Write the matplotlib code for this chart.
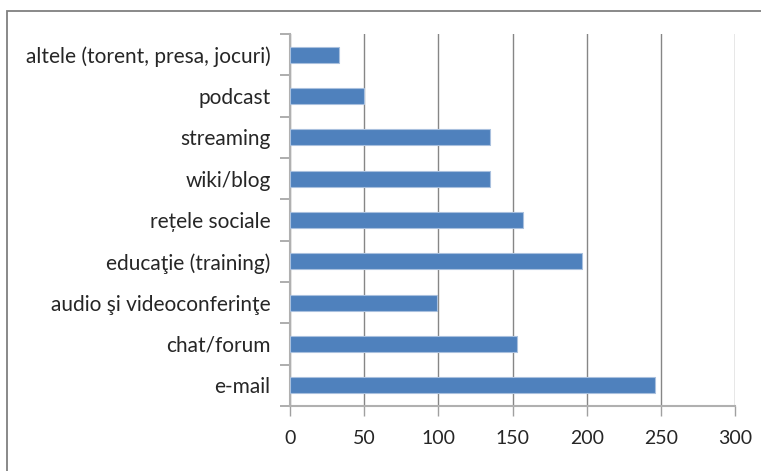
import matplotlib.pyplot as plt
import matplotlib.patches as mpatches

# categorii (de jos in sus) si valorile lor
categorii = ["e-mail", "chat/forum", "audio şi videoconferinţe",
             "educaţie (training)", "rețele sociale", "wiki/blog",
             "streaming", "podcast", "altele (torent, presa, jocuri)"]
valori = [246, 153, 99, 197, 157, 135, 135, 50, 33]
x_ticks = [0, 50, 100, 150, 200, 250, 300]

plt.rcParams['font.family'] = ['Lato', 'DejaVu Sans']

W, H = 761, 471
fig = plt.figure(figsize=(W / 100, H / 100), dpi=100)
ax = fig.add_axes([290 / W, 1 - 406 / H, 445 / W, 372 / H])

ax.barh(range(len(categorii)), valori, height=0.39, color="#4F81BD",
        edgecolor="#A9C0DE", linewidth=0.8, zorder=3)

ax.set_xlim(0, 300)
ax.set_ylim(-0.5, len(categorii) - 0.5)
ax.set_xticks(x_ticks)
ax.set_xticklabels([str(t) for t in x_ticks])
ax.set_yticks(range(len(categorii)))
ax.set_yticklabels(categorii)
ax.set_yticks([i - 0.5 for i in range(len(categorii) + 1)], minor=True)

ax.xaxis.grid(True, color="#868686", linewidth=1.0, zorder=0)
ax.tick_params(axis="y", which="major", length=0, pad=14,
               labelsize=15, labelcolor="#262626")
ax.tick_params(axis="y", which="minor", length=7, width=1.2, color="#A0A0A0")
ax.tick_params(axis="x", length=7, width=1.0, color="#A0A0A0", pad=10,
               labelsize=14, labelcolor="#262626")

for side in ["top", "right"]:
    ax.spines[side].set_visible(False)
for side in ["left", "bottom"]:
    ax.spines[side].set_color("#B0B0B0")
    ax.spines[side].set_linewidth(1.5)

# rama exterioara a graficului
fig.patches.append(mpatches.Rectangle((7 / W, -0.1), 1.2, 1 - 11 / H + 0.1,
                                      transform=fig.transFigure, fill=False,
                                      edgecolor="#808080", linewidth=1.3))

fig.savefig("out.png", dpi=100)
